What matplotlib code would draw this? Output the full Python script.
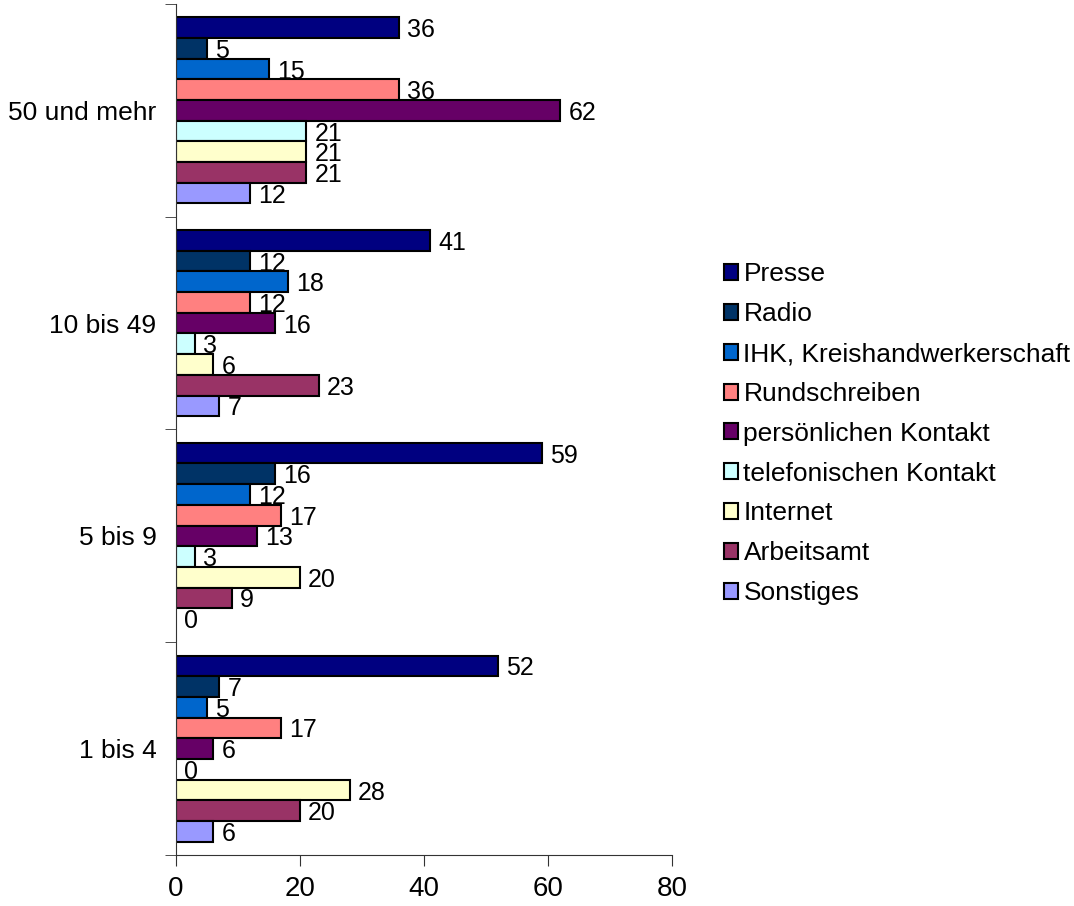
import numpy as np
import matplotlib.pyplot as plt
from matplotlib.patches import Patch

plt.rcParams['font.family'] = ['Liberation Sans', 'DejaVu Sans']

groups = ["1 bis 4", "5 bis 9", "10 bis 49", "50 und mehr"]
sources = ["Presse", "Radio", "IHK, Kreishandwerkerschaft", "Rundschreiben",
           "persönlichen Kontakt", "telefonischen Kontakt", "Internet",
           "Arbeitsamt", "Sonstiges"]
colors = ["#000080", "#003366", "#0066CC", "#FF8080", "#660066",
          "#CCFFFF", "#FFFFCC", "#993366", "#9999FF"]

# one list per size class, in the order of `sources`
vals_1_4 = [52, 7, 5, 17, 6, 0, 28, 20, 6]
vals_5_9 = [59, 16, 12, 17, 13, 3, 20, 9, 0]
vals_10_49 = [41, 12, 18, 12, 16, 3, 6, 23, 7]
vals_50 = [36, 5, 15, 36, 62, 21, 21, 21, 12]
values = np.array([vals_1_4, vals_5_9, vals_10_49, vals_50])

fig = plt.figure(figsize=(10.74, 9.06), dpi=100)
ax = fig.add_axes([0.1639, 0.0563, 0.4618, 0.9393])

n = len(sources)
h = 0.875 / n
for gi in range(len(groups)):
    for si in range(n):
        v = values[gi, si]
        y = gi + 0.4375 - h / 2 - si * h
        if v > 0:
            ax.barh(y, v, height=h, color=colors[si], edgecolor="black",
                    linewidth=1.5)
        ax.text(v + 1.3, y - 0.012, str(v), va="center", ha="left", fontsize=18)

ax.set_xlim(0, 80)
ax.set_ylim(-0.5, len(groups) - 0.5)
ax.set_xticks([0, 20, 40, 60, 80])
ax.set_yticks(np.arange(len(groups)))
ax.set_yticklabels(groups)
ax.set_yticks(np.arange(len(groups) + 1) - 0.5, minor=True)
ax.tick_params(axis="y", which="major", length=0, labelsize=19, pad=14)
ax.tick_params(axis="y", which="minor", length=8, direction="out", color="#333333")
ax.tick_params(axis="x", length=8, direction="out", labelsize=20, pad=7,
               color="#333333")
for s in ["top", "right"]:
    ax.spines[s].set_visible(False)
for s in ["left", "bottom"]:
    ax.spines[s].set_color("#333333")

handles = [Patch(facecolor=c, edgecolor="black", linewidth=1.5) for c in colors]
fig.legend(handles, sources, loc="upper left", bbox_to_anchor=(0.664, 0.722),
           frameon=False, fontsize=19, handlelength=0.55, handleheight=0.55,
           handletextpad=0.2, labelspacing=0.6, borderaxespad=0)

fig.savefig("out.png", dpi=100)
